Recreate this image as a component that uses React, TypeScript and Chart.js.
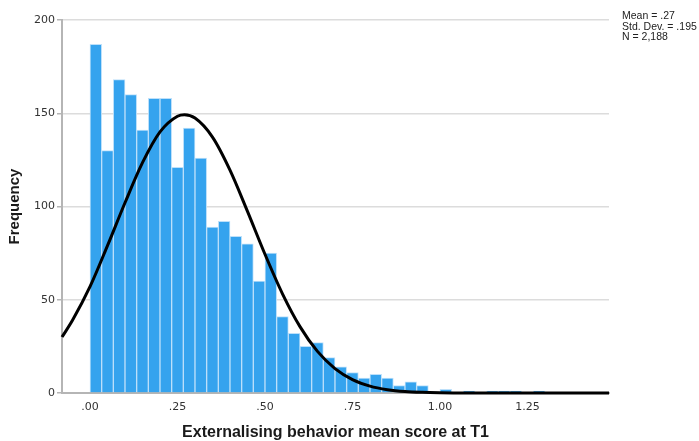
import React, { useEffect, useRef } from 'react';
import { Chart, registerables } from 'chart.js';

Chart.register(...registerables);

// Histogram bins: width 1/30 starting at 0.00
const binStart = 0;
const binWidth = 1 / 30;
const frequencies = [
  187, 130, 168, 160, 141, 158, 158, 121, 142, 126,
  89, 92, 84, 80, 60, 75, 41, 32, 25, 27,
  19, 14, 11, 8, 10, 8, 4, 6, 4, 0,
  2, 0, 1, 0, 1, 1, 1, 0, 1,
];

// Normal curve
const curveX = [-0.08, -0.05, 0, 0.05, 0.1, 0.15, 0.2, 0.25, 0.27, 0.3, 0.35, 0.4, 0.45, 0.5, 0.55, 0.6, 0.65, 0.7, 0.75, 0.8, 0.85, 0.9, 0.95, 1.0, 1.05, 1.1, 1.2, 1.3, 1.4, 1.483];
const curveY = [30, 39, 57, 79, 102, 123.5, 140, 148.4, 149.2, 147.4, 137.2, 119.5, 97.4, 74.4, 53.2, 35.6, 22.3, 13.1, 7.2, 3.7, 1.8, 0.8, 0.34, 0.13, 0.05, 0, 0, 0, 0, 0];

const xTicks = [0, 0.25, 0.5, 0.75, 1.0, 1.25];
const xTickLabels = ['.00', '.25', '.50', '.75', '1.00', '1.25'];
const yTicks = [0, 50, 100, 150, 200];

const statsLines = ['Mean = .27', 'Std. Dev. = .195', 'N = 2,188'];
const xTitle = 'Externalising behavior mean score at T1';
const yTitle = 'Frequency';

export default function App() {
  const ref = useRef<HTMLCanvasElement | null>(null);

  useEffect(() => {
    if (!ref.current) return;
    const chart = new Chart(ref.current, {
      type: 'bar',
      data: {
        datasets: [
          {
            type: 'line',
            data: curveX.map((x, i) => ({ x, y: curveY[i] })),
            borderColor: '#000000',
            borderWidth: 3,
            pointRadius: 0,
            fill: false,
            cubicInterpolationMode: 'monotone',
            order: 0,
            clip: 3,
          } as any,
          {
            type: 'bar',
            data: frequencies.map((f, k) => ({ x: binStart + (k + 0.5) * binWidth, y: f })),
            backgroundColor: '#35a3ee',
            borderColor: 'rgba(185,222,250,0.95)',
            borderWidth: 1,
            barPercentage: 1,
            categoryPercentage: 1,
            grouped: false,
            order: 1,
          } as any,
        ],
      },
      options: {
        animation: false,
        responsive: true,
        maintainAspectRatio: false,
        layout: { padding: { left: 0, right: 90, top: 20, bottom: 0 } },
        plugins: { legend: { display: false }, tooltip: { enabled: false } },
        scales: {
          x: {
            type: 'linear',
            offset: false,
            min: -0.08,
            max: 1.483,
            grid: { display: false, offset: false },
            border: { display: true, color: '#b5b5b5', width: 2 },
            afterBuildTicks: (s: any) => {
              s.ticks = xTicks.map((v) => ({ value: v }));
            },
            afterFit: (s: any) => {
              s.height = 48;
            },
            ticks: {
              autoSkip: false,
              maxRotation: 0,
              padding: 0,
              color: '#333333',
              font: { family: 'DejaVu Sans', size: 11 },
              callback: (_v: any, i: number) => xTickLabels[i],
            },
            title: {
              display: true,
              text: xTitle,
              color: '#1a1a1a',
              font: { family: 'Liberation Sans', size: 16, weight: 'bold' },
              padding: { top: 8, bottom: -1 },
            },
          },
          y: {
            min: 0,
            max: 200,
            afterBuildTicks: (s: any) => {
              s.ticks = yTicks.map((v) => ({ value: v }));
            },
            afterFit: (s: any) => {
              s.width = 62;
            },
            grid: {
              color: '#dcdcdc',
              lineWidth: 1.5,
              drawTicks: true,
              tickLength: 5,
              tickColor: '#b5b5b5',
            },
            border: { display: true, color: '#b5b5b5', width: 2 },
            ticks: {
              padding: 2,
              color: '#333333',
              font: { family: 'DejaVu Sans', size: 11 },
            },
            title: {
              display: true,
              text: yTitle,
              color: '#1a1a1a',
              font: { family: 'Liberation Sans', size: 15, weight: 'bold' },
              padding: { top: 6, bottom: 0 },
            },
          },
        },
      } as any,
    });
    return () => chart.destroy();
  }, []);

  return (
    <div style={{ position: 'absolute', left: 0, top: 0, width: 699, height: 441, background: '#ffffff' }}>
      <canvas ref={ref} />
      <div
        style={{
          position: 'absolute',
          left: 622,
          top: 10,
          fontFamily: 'Liberation Sans',
          fontSize: 10.5,
          lineHeight: '10.5px',
          color: '#222222',
          whiteSpace: 'nowrap',
        }}
      >
        {statsLines.map((s) => (
          <div key={s}>{s}</div>
        ))}
      </div>
    </div>
  );
}
